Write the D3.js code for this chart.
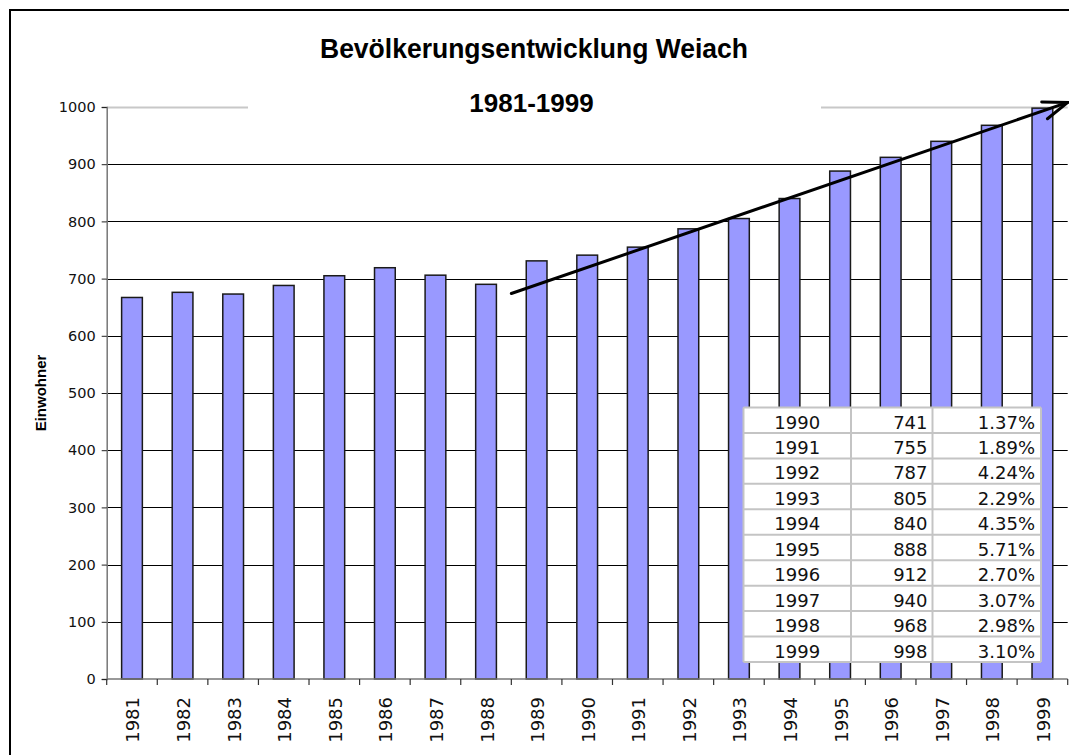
<!DOCTYPE html>
<html>
<head>
<meta charset="utf-8">
<script src="https://cdn.jsdelivr.net/npm/d3@7"></script>
<style>
  body { margin: 0; background: #fff; }
  .axis text { font-family: "DejaVu Sans", Verdana, sans-serif; fill: #111; }
  .title { font-family: "Liberation Sans", Arial, sans-serif; font-weight: bold; fill: #000; }
  .cell { font-family: "DejaVu Sans", Verdana, sans-serif; font-size: 18px; fill: #111; }
</style>
</head>
<body>
<div id="chart"></div>
<script>
// data
var years = ["1981","1982","1983","1984","1985","1986","1987","1988","1989","1990",
             "1991","1992","1993","1994","1995","1996","1997","1998","1999"];
var einwohner = [667, 676, 673, 688, 705, 719, 706, 690, 731, 741,
                 755, 787, 805, 840, 888, 912, 940, 968, 998];
var yTicks = [0, 100, 200, 300, 400, 500, 600, 700, 800, 900, 1000];

// table in the lower right
var tableYears = ["1990","1991","1992","1993","1994","1995","1996","1997","1998","1999"];
var tableGrowth = ["1.37%","1.89%","4.24%","2.29%","4.35%","5.71%","2.70%","3.07%","2.98%","3.10%"];

// trend arrow (from start of 1989 band to the right edge)
var arrowFrom = {year: "1989", value: 674};
var arrowTo = {value: 1008};

var W = 1069, H = 755;
var plot = {left: 106.7, right: 1067.7, top: 107, bottom: 679};

var svg = d3.select("#chart").append("svg")
    .attr("width", W)
    .attr("height", H);

// outer chart border (runs off the picture right and bottom)
svg.append("rect")
    .attr("x", 10).attr("y", 10)
    .attr("width", 1200).attr("height", 900)
    .attr("fill", "#fff")
    .attr("stroke", "#000")
    .attr("stroke-width", 2);

// scales
var x = d3.scaleBand().domain(years).range([plot.left, plot.right]).padding(0);
var xBar = d3.scaleBand().domain(years).range([plot.left, plot.right])
    .paddingInner(0.59).paddingOuter(0.295);
var y = d3.scaleLinear().domain([0, 1000]).range([plot.bottom, plot.top]);

// grid lines
svg.append("g")
  .selectAll("line")
  .data(yTicks.filter(function(d) { return d > 0; }))
  .enter().append("line")
    .attr("x1", plot.left).attr("x2", plot.right)
    .attr("y1", function(d) { return Math.round(y(d)) + 0.5; })
    .attr("y2", function(d) { return Math.round(y(d)) + 0.5; })
    .attr("stroke", function(d) { return d === 1000 ? "#c8c8c8" : "#000"; })
    .attr("stroke-width", function(d) { return d === 1000 ? 2 : 1; });

// bars
svg.append("g")
  .selectAll("rect")
  .data(einwohner)
  .enter().append("rect")
    .attr("x", function(d, i) { return xBar(years[i]); })
    .attr("y", function(d) { return y(d); })
    .attr("width", xBar.bandwidth())
    .attr("height", function(d) { return y(0) - y(d); })
    .attr("fill", "#9999ff")
    .attr("stroke", "#1a1a1a")
    .attr("stroke-width", 1.5);

// y axis
var yAxis = svg.append("g")
    .attr("class", "axis")
    .attr("transform", "translate(" + plot.left + ",0)")
    .call(d3.axisLeft(y).tickValues(yTicks).tickFormat(d3.format("d")).tickSize(5).tickPadding(6));
yAxis.select(".domain").attr("stroke", "#777").attr("stroke-width", 1.5);
yAxis.selectAll(".tick line").attr("stroke", "#222");
yAxis.selectAll(".tick text").style("font-size", "14.5px");

// x axis: ticks between categories, labels rotated
var xAxis = svg.append("g").attr("class", "axis");
xAxis.append("line")
    .attr("x1", plot.left).attr("x2", plot.right)
    .attr("y1", y(0)).attr("y2", y(0))
    .attr("stroke", "#777").attr("stroke-width", 1.5);
xAxis.selectAll(".xt")
  .data(years.concat(["end"]))
  .enter().append("line")
    .attr("class", "xt")
    .attr("x1", function(d) { return d === "end" ? plot.right : x(d); })
    .attr("x2", function(d) { return d === "end" ? plot.right : x(d); })
    .attr("y1", y(0)).attr("y2", y(0) + 6)
    .attr("stroke", "#333").attr("stroke-width", 1.2);
xAxis.selectAll(".xl")
  .data(years)
  .enter().append("text")
    .attr("class", "xl")
    .attr("transform", function(d) {
      return "translate(" + (x(d) + x.bandwidth() / 2 + 1) + "," + (y(0) + 18) + ") rotate(-90)";
    })
    .attr("dy", "0.36em")
    .attr("text-anchor", "end")
    .style("font-size", "18px")
    .text(function(d) { return d; });

// y axis title
svg.append("text")
    .attr("class", "title")
    .attr("transform", "translate(46,393) rotate(-90)")
    .attr("text-anchor", "middle")
    .style("font-size", "15px")
    .text("Einwohner");

// title block (white box hides the top grid line)
svg.append("rect")
    .attr("x", 248).attr("y", 22)
    .attr("width", 573).attr("height", 92)
    .attr("fill", "#fff");
svg.append("text")
    .attr("class", "title")
    .attr("x", 534).attr("y", 58)
    .attr("text-anchor", "middle")
    .attr("textLength", 428)
    .attr("lengthAdjust", "spacingAndGlyphs")
    .style("font-size", "28px")
    .text("Bevölkerungsentwicklung Weiach");
svg.append("text")
    .attr("class", "title")
    .attr("x", 531.5).attr("y", 111.5)
    .attr("text-anchor", "middle")
    .style("font-size", "26px")
    .text("1981-1999");

// trend arrow
var ax1 = x(arrowFrom.year), ay1 = y(arrowFrom.value);
var ax2 = plot.right, ay2 = y(arrowTo.value);
var ang = Math.atan2(ay2 - ay1, ax2 - ax1);
var barb = 26, spread = 20 * Math.PI / 180;
var arrow = svg.append("g")
    .attr("stroke", "#000")
    .attr("stroke-width", 3)
    .attr("stroke-linecap", "round")
    .attr("fill", "none");
arrow.append("line")
    .attr("x1", ax1).attr("y1", ay1)
    .attr("x2", ax2).attr("y2", ay2);
arrow.append("path")
    .attr("d", "M" + (ax2 - barb * Math.cos(ang - spread)) + "," + (ay2 - barb * Math.sin(ang - spread)) +
               "L" + ax2 + "," + ay2 +
               "L" + (ax2 - barb * Math.cos(ang + spread)) + "," + (ay2 - barb * Math.sin(ang + spread)));

// table
var tbl = {x: 743.5, y: 407.5, rowH: 25.45, cols: [743.5, 851, 932.5, 1041]};
var table = svg.append("g");
table.append("rect")
    .attr("x", tbl.x).attr("y", tbl.y)
    .attr("width", tbl.cols[3] - tbl.x)
    .attr("height", tbl.rowH * tableYears.length)
    .attr("fill", "#fff");
var rows = table.selectAll(".row")
  .data(tableYears)
  .enter().append("g")
    .attr("class", "row")
    .attr("transform", function(d, i) { return "translate(0," + (tbl.y + i * tbl.rowH) + ")"; });
rows.append("text")
    .attr("class", "cell")
    .attr("x", (tbl.cols[0] + tbl.cols[1]) / 2)
    .attr("y", 21)
    .attr("text-anchor", "middle")
    .text(function(d) { return d; });
rows.append("text")
    .attr("class", "cell")
    .attr("x", tbl.cols[2] - 5)
    .attr("y", 21)
    .attr("text-anchor", "end")
    .text(function(d) { return einwohner[years.indexOf(d)]; });
rows.append("text")
    .attr("class", "cell")
    .attr("x", tbl.cols[3] - 6)
    .attr("y", 21)
    .attr("text-anchor", "end")
    .text(function(d, i) { return tableGrowth[i]; });
// cell borders
table.selectAll(".hl")
  .data(d3.range(tableYears.length + 1))
  .enter().append("line")
    .attr("x1", tbl.x).attr("x2", tbl.cols[3])
    .attr("y1", function(i) { return tbl.y + i * tbl.rowH; })
    .attr("y2", function(i) { return tbl.y + i * tbl.rowH; })
    .attr("stroke", "#c4c4c4").attr("stroke-width", 2);
table.selectAll(".vl")
  .data(tbl.cols)
  .enter().append("line")
    .attr("x1", function(d) { return d; }).attr("x2", function(d) { return d; })
    .attr("y1", tbl.y).attr("y2", tbl.y + tbl.rowH * tableYears.length)
    .attr("stroke", "#c4c4c4").attr("stroke-width", 2);
</script>
</body>
</html>
